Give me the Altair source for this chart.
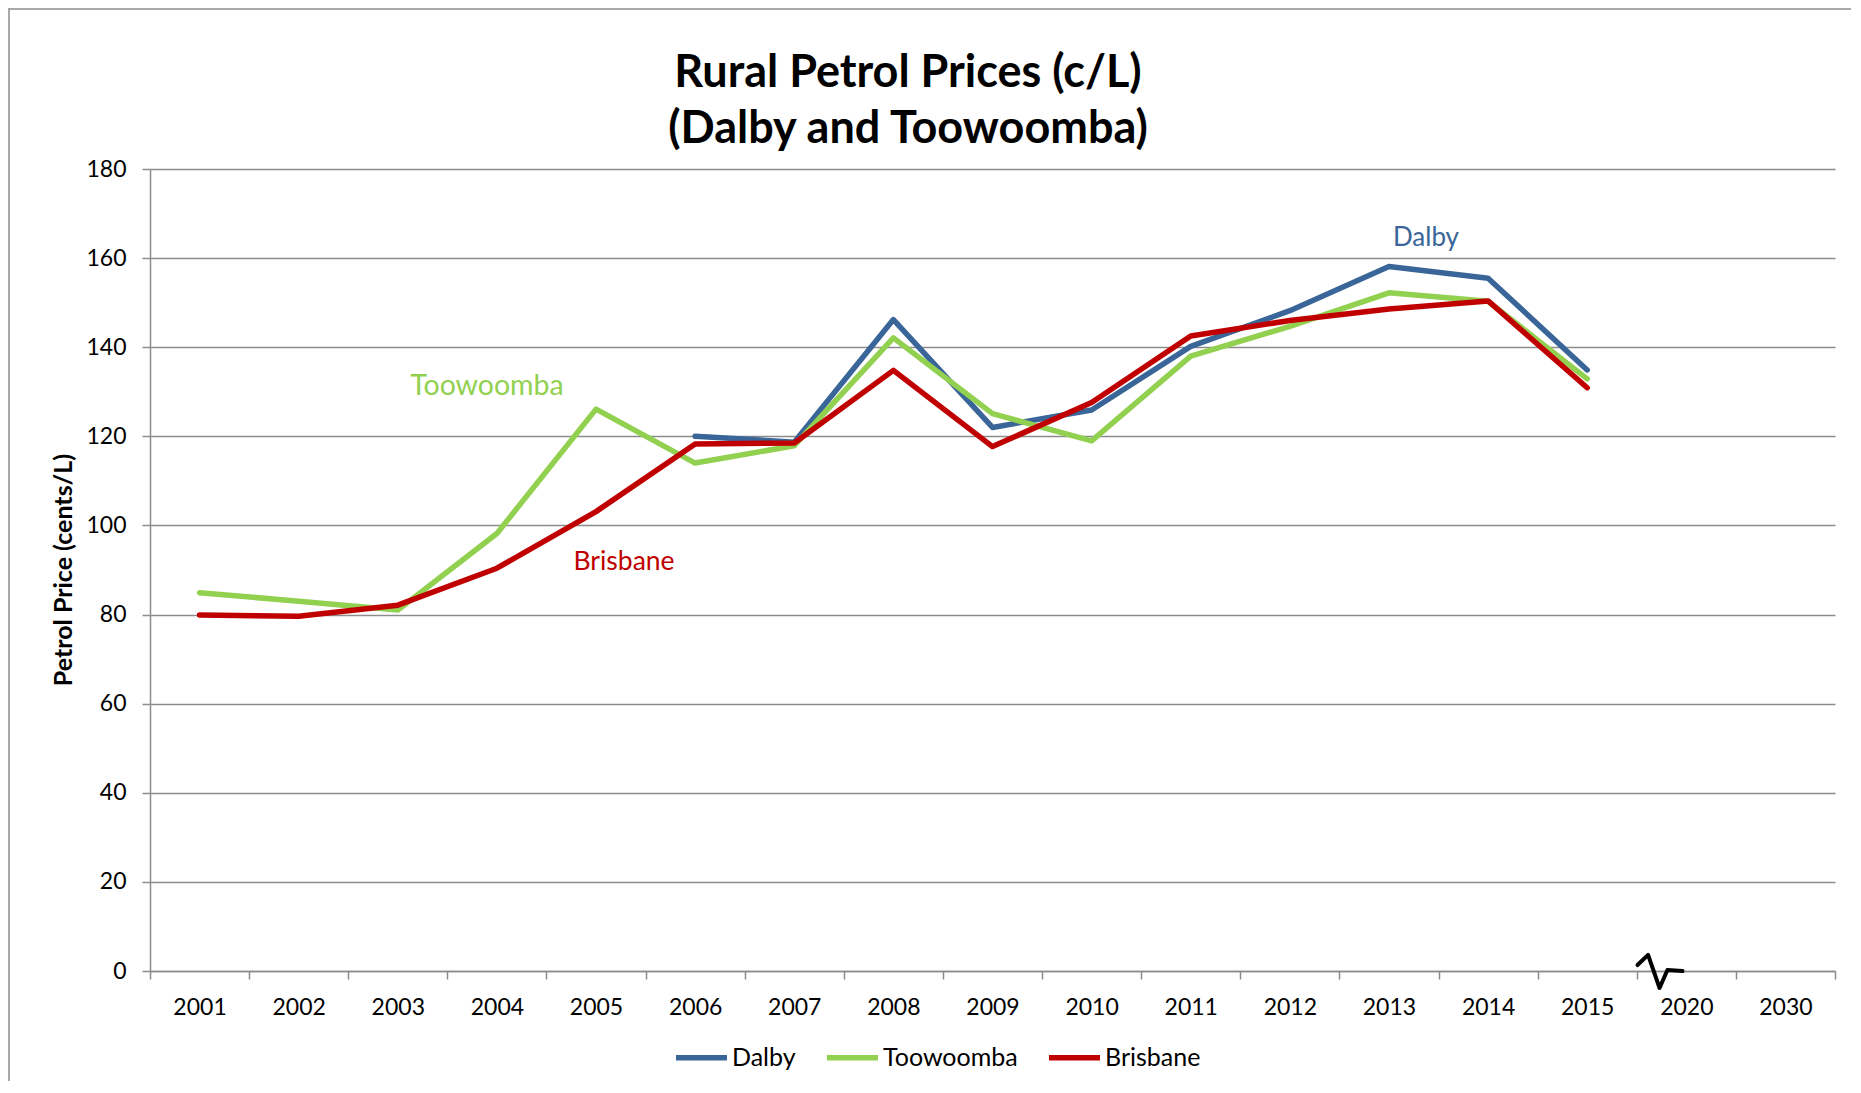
import altair as alt
import pandas as pd

# ---- data -------------------------------------------------------------
years = ["2001", "2002", "2003", "2004", "2005", "2006", "2007", "2008",
         "2009", "2010", "2011", "2012", "2013", "2014", "2015", "2020", "2030"]

dalby = [None, None, None, None, None, 120.0, 118.7, 146.2, 122.0, 125.9,
         140.2, 148.2, 158.1, 155.5, 134.9, None, None]
toowoomba = [84.9, 83.0, 81.0, 98.2, 126.1, 114.0, 117.9, 142.1, 125.1, 119.0,
             138.0, 144.7, 152.2, 150.3, 132.9, None, None]
brisbane = [79.9, 79.6, 82.1, 90.4, 103.1, 118.3, 118.5, 134.8, 117.7, 127.6,
            142.5, 146.0, 148.6, 150.4, 130.9, None, None]

series_names = ["Dalby", "Toowoomba", "Brisbane"]
series_colors = ["#3A6598", "#92D050", "#C00000"]

y_ticks = [0, 20, 40, 60, 80, 100, 120, 140, 160, 180]

title_lines = ["Rural Petrol Prices (c/L)", "(Dalby and Toowoomba)"]
y_title = "Petrol Price (cents/L)"

# annotation labels: text, anchor year, anchor value
ann_text = ["Dalby", "Toowoomba", "Brisbane"]
ann_year = ["2013", "2004", "2005"]
ann_value = [164.6, 131.4, 91.8]
ann_dx = [37, -10, 28]
ann_size = [26, 28.5, 26.5]

# ---- build table --------------------------------------------------------
rows = []
for name, vals in zip(series_names, [dalby, toowoomba, brisbane]):
    for yr, v in zip(years, vals):
        if v is not None:
            rows.append({"year": yr, "price": v, "series": name})
df = pd.DataFrame(rows)

W, H = 1685, 802
FONT = "Lato"
GRID = "#8C8C8C"

x_scale = alt.Scale(type="band", domain=years, paddingInner=0, paddingOuter=0)
x_enc = alt.X("year:N", scale=x_scale,
              axis=alt.Axis(title=None, labelAngle=0, tickBand="extent", grid=False,
                            labelFontSize=23, labelFont=FONT, labelColor="#000000",
                            labelPadding=17, tickSize=8, tickColor=GRID, tickWidth=1.5,
                            domainColor=GRID, domainWidth=1.5))
y_scale = alt.Scale(domain=[0, 180], nice=False, zero=True)

lines = alt.Chart(df).mark_line(strokeWidth=5.5, strokeCap="round", strokeJoin="round").encode(
    x=x_enc,
    y=alt.Y("price:Q", scale=y_scale,
            axis=alt.Axis(title=None, values=y_ticks, grid=True, gridColor=GRID, gridWidth=1.5,
                          labelFontSize=23, labelFont=FONT, labelColor="#000000",
                          labelPadding=16, tickSize=8, tickColor=GRID, tickWidth=1.5,
                          domainColor=GRID, domainWidth=1.5)),
    color=alt.Color("series:N",
                    scale=alt.Scale(domain=series_names, range=series_colors),
                    legend=alt.Legend(title=None, orient="none", direction="horizontal",
                                      legendX=523, legendY=860,
                                      symbolType="stroke", symbolSize=2600,
                                      symbolStrokeWidth=5.5, labelFontSize=25, labelFont=FONT,
                                      labelColor="#000000", labelOffset=2, columnPadding=20)),
    order=alt.Order("year:N"),
)

layers = [lines]

ann_df = pd.DataFrame({"text": ann_text, "year": ann_year, "value": ann_value})
for i, (t, c) in enumerate(zip(ann_text, series_colors)):
    layers.append(
        alt.Chart(ann_df[ann_df["text"] == t]).mark_text(
            font=FONT, fontSize=ann_size[i], color=c, dx=ann_dx[i], baseline="middle",
            align="center"
        ).encode(x=alt.X("year:N", scale=x_scale),
                 y=alt.Y("value:Q", scale=y_scale),
                 text="text:N")
    )

# title lines
title_df = pd.DataFrame({"t": title_lines, "py": [-96, -40]})
layers.append(
    alt.Chart(title_df).mark_text(font=FONT, fontSize=45, fontWeight="bold", color="#000000",
                                  align="center", baseline="middle").encode(
        x=alt.value(758), y=alt.Y("py:Q", scale=None), text="t:N")
)

# y-axis title
layers.append(
    alt.Chart(pd.DataFrame({"t": [y_title]})).mark_text(
        font=FONT, fontSize=25, fontWeight="bold", color="#000000", angle=270,
        align="center", baseline="middle").encode(
        x=alt.value(-86), y=alt.value(H / 2), text="t:N")
)

# axis break squiggle
squiggle = "M -1 -0.31 L -0.53 -0.76 L -0.02 0.71 L 0.33 -0.09 L 1 -0.04"
layers.append(
    alt.Chart(pd.DataFrame({"k": [0]})).mark_point(
        shape=squiggle, filled=False, stroke="#000000", strokeWidth=4, size=2025,
        opacity=1, strokeCap="round", strokeJoin="round").encode(
        x=alt.value(1510), y=alt.value(H + 1))
)

# outer frame (top and left edges)
layers.append(
    alt.Chart(pd.DataFrame({"k": [0]})).mark_rule(color=GRID, strokeWidth=1.5).encode(
        x=alt.value(-141), y=alt.value(-161), y2=alt.value(H + 110))
)
layers.append(
    alt.Chart(pd.DataFrame({"k": [0]})).mark_rule(color=GRID, strokeWidth=1.5).encode(
        x=alt.value(-141), x2=alt.value(W + 16), y=alt.value(-160))
)

chart = alt.layer(*layers).properties(
    width=W, height=H,
    autosize=alt.AutoSizeParams(type="none"),
    padding={"left": 142, "top": 161, "right": 16, "bottom": 110},
    background="#FFFFFF",
).configure_view(stroke=None)

chart.save("out.html", embed_options={"renderer": "svg", "actions": False})
